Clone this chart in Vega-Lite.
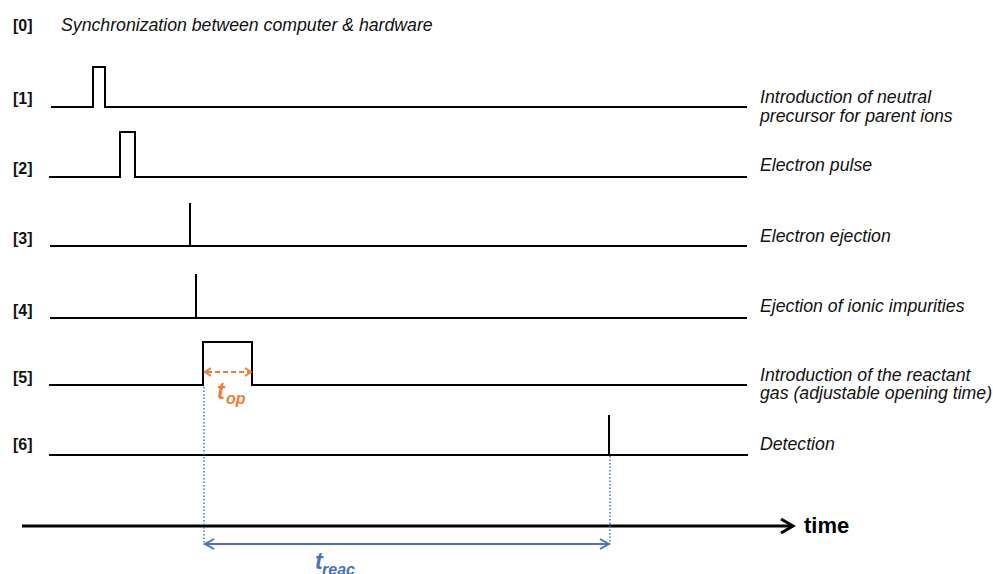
{
  "$schema": "https://vega.github.io/schema/vega-lite/v6.json",
  "width": 993,
  "height": 574,
  "autosize": {"type": "none"},
  "padding": 0,
  "background": "white",
  "config": {"view": {"stroke": null}},
  "datasets": {
    "wave": [
      {"id": "c1", "k": 0, "x": 51, "y": 107}, {"id": "c1", "k": 1, "x": 93, "y": 107}, {"id": "c1", "k": 2, "x": 93, "y": 67}, {"id": "c1", "k": 3, "x": 105, "y": 67}, {"id": "c1", "k": 4, "x": 105, "y": 107}, {"id": "c1", "k": 5, "x": 747, "y": 107},
      {"id": "c2", "k": 0, "x": 49, "y": 177}, {"id": "c2", "k": 1, "x": 120, "y": 177}, {"id": "c2", "k": 2, "x": 120, "y": 132}, {"id": "c2", "k": 3, "x": 135, "y": 132}, {"id": "c2", "k": 4, "x": 135, "y": 177}, {"id": "c2", "k": 5, "x": 747, "y": 177},
      {"id": "c3", "k": 0, "x": 50, "y": 246}, {"id": "c3", "k": 1, "x": 190, "y": 246}, {"id": "c3", "k": 2, "x": 190, "y": 203}, {"id": "c3", "k": 3, "x": 190, "y": 246}, {"id": "c3", "k": 4, "x": 747, "y": 246},
      {"id": "c4", "k": 0, "x": 50, "y": 318}, {"id": "c4", "k": 1, "x": 196, "y": 318}, {"id": "c4", "k": 2, "x": 196, "y": 274}, {"id": "c4", "k": 3, "x": 196, "y": 318}, {"id": "c4", "k": 4, "x": 747, "y": 318},
      {"id": "c5", "k": 0, "x": 49, "y": 385}, {"id": "c5", "k": 1, "x": 203, "y": 385}, {"id": "c5", "k": 2, "x": 203, "y": 342}, {"id": "c5", "k": 3, "x": 252, "y": 342}, {"id": "c5", "k": 4, "x": 252, "y": 385}, {"id": "c5", "k": 5, "x": 747, "y": 385},
      {"id": "c6", "k": 0, "x": 49, "y": 455}, {"id": "c6", "k": 1, "x": 609, "y": 455}, {"id": "c6", "k": 2, "x": 609, "y": 415}, {"id": "c6", "k": 3, "x": 609, "y": 455}, {"id": "c6", "k": 4, "x": 748, "y": 455}
    ],
    "axis": [
      {"id": "a", "k": 0, "x": 22, "y": 526}, {"id": "a", "k": 1, "x": 791, "y": 526},
      {"id": "h", "k": 0, "x": 781, "y": 519}, {"id": "h", "k": 1, "x": 793, "y": 526}, {"id": "h", "k": 2, "x": 781, "y": 533}
    ],
    "opdash": [
      {"id": "o", "k": 0, "x": 207, "y": 372}, {"id": "o", "k": 1, "x": 249, "y": 372}
    ],
    "ophead": [
      {"id": "l", "k": 0, "x": 211, "y": 368}, {"id": "l", "k": 1, "x": 205, "y": 372}, {"id": "l", "k": 2, "x": 211, "y": 376},
      {"id": "r", "k": 0, "x": 245, "y": 368}, {"id": "r", "k": 1, "x": 251, "y": 372}, {"id": "r", "k": 2, "x": 245, "y": 376}
    ],
    "dotted": [
      {"id": "d1", "k": 0, "x": 204, "y": 387}, {"id": "d1", "k": 1, "x": 204, "y": 545},
      {"id": "d2", "k": 0, "x": 610, "y": 456}, {"id": "d2", "k": 1, "x": 610, "y": 543}
    ],
    "reac": [
      {"id": "r", "k": 0, "x": 205, "y": 544}, {"id": "r", "k": 1, "x": 609, "y": 544},
      {"id": "hl", "k": 0, "x": 214, "y": 539}, {"id": "hl", "k": 1, "x": 205, "y": 544}, {"id": "hl", "k": 2, "x": 214, "y": 549},
      {"id": "hr", "k": 0, "x": 600, "y": 539}, {"id": "hr", "k": 1, "x": 609, "y": 544}, {"id": "hr", "k": 2, "x": 600, "y": 549}
    ],
    "texts": [
      {"g": "idx", "t": "[0]", "x": 13, "y": 31},
      {"g": "idx", "t": "[1]", "x": 13, "y": 104},
      {"g": "idx", "t": "[2]", "x": 13, "y": 174},
      {"g": "idx", "t": "[3]", "x": 13, "y": 244},
      {"g": "idx", "t": "[4]", "x": 13, "y": 316},
      {"g": "idx", "t": "[5]", "x": 13, "y": 383},
      {"g": "idx", "t": "[6]", "x": 13, "y": 450},
      {"g": "lab", "t": "Synchronization between computer & hardware", "x": 61, "y": 31},
      {"g": "lab", "t": "Introduction of neutral", "x": 760, "y": 103},
      {"g": "lab", "t": "precursor for parent ions", "x": 760, "y": 122},
      {"g": "lab", "t": "Electron pulse", "x": 760, "y": 171},
      {"g": "lab", "t": "Electron ejection", "x": 760, "y": 242},
      {"g": "lab", "t": "Ejection of ionic impurities", "x": 760, "y": 312},
      {"g": "lab", "t": "Introduction of the reactant", "x": 760, "y": 381},
      {"g": "lab", "t": "gas (adjustable opening time)", "x": 760, "y": 399},
      {"g": "lab", "t": "Detection", "x": 760, "y": 450},
      {"g": "time", "t": "time", "x": 804, "y": 533},
      {"g": "opbig", "t": "t", "x": 217, "y": 399},
      {"g": "opsub", "t": "op", "x": 226, "y": 404},
      {"g": "rbig", "t": "t", "x": 315, "y": 569},
      {"g": "rsub", "t": "reac", "x": 322, "y": 575}
    ]
  },
  "encoding": {
    "x": {"field": "x", "type": "quantitative", "scale": {"domain": [0, 993], "nice": false, "zero": false}, "axis": null},
    "y": {"field": "y", "type": "quantitative", "scale": {"domain": [0, 574], "nice": false, "zero": false, "reverse": true}, "axis": null}
  },
  "layer": [
    {
      "data": {"name": "wave"},
      "mark": {"type": "line", "color": "#000000", "strokeWidth": 2, "strokeJoin": "miter"},
      "encoding": {"detail": {"field": "id"}, "order": {"field": "k", "type": "quantitative"}}
    },
    {
      "data": {"name": "axis"},
      "mark": {"type": "line", "color": "#000000", "strokeWidth": 3, "strokeJoin": "miter"},
      "encoding": {"detail": {"field": "id"}, "order": {"field": "k", "type": "quantitative"}}
    },
    {
      "data": {"name": "opdash"},
      "mark": {"type": "line", "color": "#ED7D31", "strokeWidth": 2, "strokeDash": [5, 3]},
      "encoding": {"detail": {"field": "id"}, "order": {"field": "k", "type": "quantitative"}}
    },
    {
      "data": {"name": "ophead"},
      "mark": {"type": "line", "color": "#ED7D31", "strokeWidth": 2},
      "encoding": {"detail": {"field": "id"}, "order": {"field": "k", "type": "quantitative"}}
    },
    {
      "data": {"name": "dotted"},
      "mark": {"type": "line", "color": "#4472C4", "strokeWidth": 1.5, "strokeDash": [1.5, 2]},
      "encoding": {"detail": {"field": "id"}, "order": {"field": "k", "type": "quantitative"}}
    },
    {
      "data": {"name": "reac"},
      "mark": {"type": "line", "color": "#4472C4", "strokeWidth": 2},
      "encoding": {"detail": {"field": "id"}, "order": {"field": "k", "type": "quantitative"}}
    },
    {
      "data": {"name": "texts"},
      "transform": [{"filter": "datum.g === 'idx'"}],
      "mark": {"type": "text", "align": "left", "baseline": "alphabetic", "font": "Liberation Sans", "fontSize": 16, "fontWeight": "bold", "color": "#111111"},
      "encoding": {"text": {"field": "t"}}
    },
    {
      "data": {"name": "texts"},
      "transform": [{"filter": "datum.g === 'lab'"}],
      "mark": {"type": "text", "align": "left", "baseline": "alphabetic", "font": "Liberation Sans", "fontSize": 17.7, "fontStyle": "italic", "color": "#111111"},
      "encoding": {"text": {"field": "t"}}
    },
    {
      "data": {"name": "texts"},
      "transform": [{"filter": "datum.g === 'time'"}],
      "mark": {"type": "text", "align": "left", "baseline": "alphabetic", "font": "Liberation Sans", "fontSize": 22, "fontWeight": "bold", "color": "#000000"},
      "encoding": {"text": {"field": "t"}}
    },
    {
      "data": {"name": "texts"},
      "transform": [{"filter": "datum.g === 'opbig'"}],
      "mark": {"type": "text", "align": "left", "baseline": "alphabetic", "font": "Liberation Sans", "fontSize": 23, "fontWeight": "bold", "fontStyle": "italic", "color": "#ED7D31"},
      "encoding": {"text": {"field": "t"}}
    },
    {
      "data": {"name": "texts"},
      "transform": [{"filter": "datum.g === 'opsub'"}],
      "mark": {"type": "text", "align": "left", "baseline": "alphabetic", "font": "Liberation Sans", "fontSize": 16, "fontWeight": "bold", "fontStyle": "italic", "color": "#ED7D31"},
      "encoding": {"text": {"field": "t"}}
    },
    {
      "data": {"name": "texts"},
      "transform": [{"filter": "datum.g === 'rbig'"}],
      "mark": {"type": "text", "align": "left", "baseline": "alphabetic", "font": "Liberation Sans", "fontSize": 23, "fontWeight": "bold", "fontStyle": "italic", "color": "#4472C4"},
      "encoding": {"text": {"field": "t"}}
    },
    {
      "data": {"name": "texts"},
      "transform": [{"filter": "datum.g === 'rsub'"}],
      "mark": {"type": "text", "align": "left", "baseline": "alphabetic", "font": "Liberation Sans", "fontSize": 16, "fontWeight": "bold", "fontStyle": "italic", "color": "#4472C4"},
      "encoding": {"text": {"field": "t"}}
    }
  ]
}
